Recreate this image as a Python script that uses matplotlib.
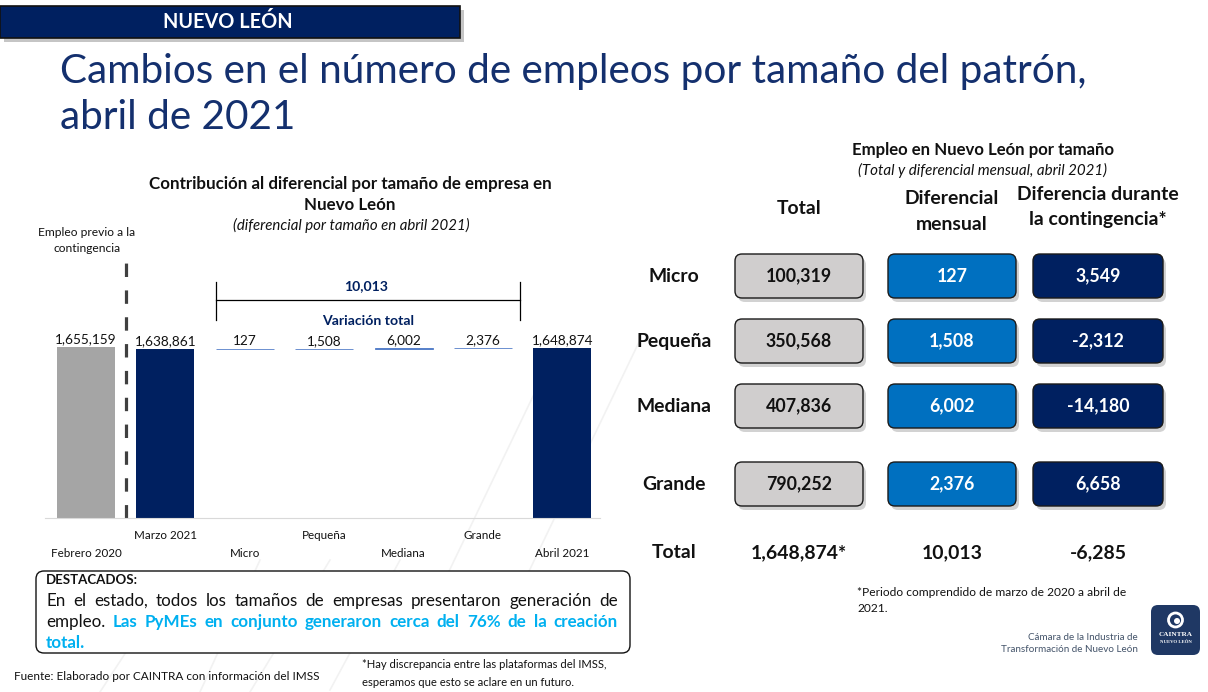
import matplotlib
matplotlib.use('Agg')
import matplotlib.pyplot as plt
from matplotlib.patches import FancyBboxPatch, Rectangle, Circle
import matplotlib.transforms as mtransforms

plt.rcParams['font.family'] = ['Lato', 'DejaVu Sans']

# ---------------- data ----------------
wf_labels = ['Febrero 2020', 'Marzo 2021', 'Micro', 'Pequeña', 'Mediana', 'Grande', 'Abril 2021']
wf_values = [1655159, 1638861, 127, 1508, 6002, 2376, 1648874]
wf_kind = ['base', 'total', 'delta', 'delta', 'delta', 'delta', 'total']
variacion_total = 10013

sizes = ['Micro', 'Pequeña', 'Mediana', 'Grande']
total_emp = [100319, 350568, 407836, 790252]
dif_mensual = [127, 1508, 6002, 2376]
dif_contingencia = [3549, -2312, -14180, 6658]
total_row = ['1,648,874*', '10,013', '-6,285']
col_headers = [['Total'], ['Diferencial', 'mensual'], ['Diferencia durante', 'la contingencia*']]

# ---------------- styling ----------------
NAVY = '#002060'
BLUE = '#0070C0'
GRAYBOX = '#D0CECE'
GRAYBAR = '#A5A5A5'
DELTA = '#4472C4'
CYAN = '#00B0F0'
TITLE = '#14306E'

W, H = 1208, 692
fig = plt.figure(figsize=(W / 100, H / 100), dpi=100)
fig.patch.set_facecolor('white')
renderer = fig.canvas.get_renderer()

ov = fig.add_axes([0, 0, 1, 1])
ov.set_xlim(0, W)
ov.set_ylim(H, 0)
ov.axis('off')
ov.patch.set_alpha(0)


def fit(s, width, **kw):
    t = ov.text(0, 0, s, fontsize=10, **kw)
    w = t.get_window_extent(renderer).width
    t.remove()
    return 10 * width / w


def T(x, y, s, size, ha='center', va='center', **kw):
    return ov.text(x, y, s, fontsize=size, ha=ha, va=va, **kw)


# faint watermark strokes
for (x0, y0, x1, y1) in [(440, 590, 560, 340), (520, 590, 640, 340), (200, 692, 260, 560),
                         (250, 692, 330, 560), (330, 690, 400, 560), (100, 692, 160, 600)]:
    ov.plot([x0, x1], [y0, y1], color='#F2F2F2', lw=1.2, zorder=0)

# ---------------- header ----------------
ov.add_patch(Rectangle((4, 10), 460, 32, facecolor='#7F7F7F', alpha=0.45, lw=0, zorder=1))
ov.add_patch(Rectangle((0, 6), 460, 32, facecolor=NAVY, edgecolor='#111111', lw=1.2, zorder=2))
T(228, 22.5, 'NUEVO LEÓN', fit('NUEVO LEÓN', 129, weight='bold'), color='white', weight='bold', zorder=3)

t1 = 'Cambios en el número de empleos por tamaño del patrón,'
tsz = fit(t1, 1030)
T(60, 83, t1, tsz, ha='left', va='baseline', color=TITLE)
T(60, 129, 'abril de 2021', tsz, ha='left', va='baseline', color=TITLE)

# ---------------- waterfall chart ----------------
x_c0, dx = 86.0, 79.4
ax_l, ax_r, ax_b, ax_t = 45, 600, 518, 300
ax = fig.add_axes([ax_l / W, 1 - ax_b / H, (ax_r - ax_l) / W, (ax_b - ax_t) / H])
ax.patch.set_alpha(0)
ax.set_xlim((ax_l - x_c0) / dx, (ax_r - x_c0) / dx)
ax.set_ylim(0, wf_values[0] * (ax_b - ax_t) / (ax_b - 347))
for sp in ['top', 'right', 'left']:
    ax.spines[sp].set_visible(False)
ax.spines['bottom'].set_color('#D9D9D9')
ax.set_xticks([])
ax.set_yticks([])

xs = list(range(len(wf_values)))
bottoms, heights, colors = [], [], []
running = 0
for v, k in zip(wf_values, wf_kind):
    if k == 'base':
        bottoms.append(0); heights.append(v); colors.append(GRAYBAR)
    elif k == 'total':
        bottoms.append(0); heights.append(v); colors.append(NAVY)
        running = v
    else:
        bottoms.append(running); heights.append(v); colors.append(DELTA)
        running += v
bw = 58 / dx
for i in xs:
    if wf_kind[i] == 'delta':
        ax.bar(xs[i], heights[i], bottom=bottoms[i], width=bw, color=colors[i],
               edgecolor=colors[i], linewidth=0.55)
    else:
        ax.bar(xs[i], heights[i], bottom=bottoms[i], width=bw, color=colors[i], linewidth=0)

vsz = fit('1,655,159', 62)
for i in xs:
    top = bottoms[i] + heights[i]
    ax.annotate(f'{wf_values[i]:,}', (xs[i], top), xytext=(0, 5.5), textcoords='offset points',
                ha='center', va='center', fontsize=vsz, color='#111111')

lsz = fit('Febrero 2020', 71)
trans_lbl = mtransforms.blended_transform_factory(ax.transData, ax.transAxes)
for i, lab in enumerate(wf_labels):
    off = -12.5 if i % 2 == 1 else -25.5
    ax.annotate(lab, (xs[i], 0), xycoords=trans_lbl, xytext=(0, off), textcoords='offset points',
                ha='center', va='center', fontsize=lsz, color='#111111')

# dashed separator between Feb 2020 and Mar 2021
ax.plot([0.5, 0.5], [0, (ax_b - 255) / (ax_b - ax_t)], transform=trans_lbl, clip_on=False,
        color='#404040', lw=2.3, linestyle=(0, (4.2, 4.2)))

# bracket for total variation
ov.plot([216, 520], [300, 300], color='black', lw=0.9)
ov.plot([216, 216], [282, 320], color='black', lw=0.9)
ov.plot([520, 520], [282, 320], color='black', lw=0.9)
bsz = fit(f'{variacion_total:,}', 44, weight='bold')
T(366, 286, f'{variacion_total:,}', bsz, color=NAVY, weight='bold')
T(368, 321, 'Variación total', bsz, color=NAVY, weight='bold')

csz = fit('Contribución al diferencial por tamaño de empresa en', 403, weight='bold')
T(350, 184, 'Contribución al diferencial por tamaño de empresa en', csz, weight='bold', color='#111111')
T(350, 205, 'Nuevo León', csz, weight='bold', color='#111111')
T(351, 225, '(diferencial por tamaño en abril 2021)', fit('(diferencial por tamaño en abril 2021)', 238, style='italic'),
  style='italic', color='#111111')
esz = fit('Empleo previo a la', 97)
T(87, 233, 'Empleo previo a la', esz, color='#111111')
T(87, 249, 'contingencia', esz, color='#111111')

# ---------------- DESTACADOS box ----------------
ov.add_patch(FancyBboxPatch((36, 571), 594, 82, boxstyle='round,pad=0,rounding_size=8',
                            facecolor='white', edgecolor='#111111', lw=1.0, zorder=2))
T(46, 580, 'DESTACADOS:', fit('DESTACADOS:', 91, weight='bold'), ha='left', weight='bold',
  color='#111111', zorder=3)
para1 = 'En el estado, todos los tamaños de empresas presentaron generación de'
psz = fit(para1, 540)
N = dict(color='#111111')
B = dict(color=CYAN, weight='bold')
line1 = [(w, N) for w in para1.split()]
line2 = [('empleo.', N)] + [(w, B) for w in 'Las PyMEs en conjunto generaron cerca del 76% de la creación'.split()]
line3 = [('total.', B)]


def justify(words, y, x0, x1, just=True):
    widths = []
    for w, st in words:
        t = ov.text(0, 0, w, fontsize=psz, **st)
        widths.append(t.get_window_extent(renderer).width)
        t.remove()
    if just and len(words) > 1:
        gap = (x1 - x0 - sum(widths)) / (len(words) - 1)
    else:
        gap = 4
    x = x0
    for (w, st), wd in zip(words, widths):
        ov.text(x, y, w, fontsize=psz, ha='left', va='center', zorder=3, **st)
        x += wd + gap


justify(line1, 601, 46, 618)
justify(line2, 622, 46, 618)
justify(line3, 643, 46, 618, just=False)

fsz = fit('Fuente: Elaborado por CAINTRA con información del IMSS', 304)
T(14, 676, 'Fuente: Elaborado por CAINTRA con información del IMSS', fsz, ha='left', color='#111111')
nsz = fit('*Hay discrepancia entre las plataformas del IMSS,', 244)
T(362, 665, '*Hay discrepancia entre las plataformas del IMSS,', nsz, ha='left', color='#111111')
T(362, 683, 'esperamos que esto se aclare en un futuro.', nsz, ha='left', color='#111111')

# ---------------- right table ----------------
rt = fit('Empleo en Nuevo León por tamaño', 264, weight='bold')
T(983, 150, 'Empleo en Nuevo León por tamaño', rt, weight='bold', color='#111111')
T(983, 170, '(Total y diferencial mensual, abril 2021)',
  fit('(Total y diferencial mensual, abril 2021)', 249, style='italic'), style='italic', color='#111111')

hsz = fit('Diferencia durante', 162, weight='bold')
col_x = [799, 952, 1098]
col_y = [[209], [199, 224], [194, 219]]
for cx, lines, ys in zip(col_x, col_headers, col_y):
    for s, y in zip(lines, ys):
        T(cx, y, s, hsz, weight='bold', color='#111111')

row_y = [276, 341, 406, 484]
box_x = [(735, 128), (888, 128), (1033, 130)]
box_fc = [GRAYBOX, BLUE, NAVY]
box_tc = ['#111111', 'white', 'white']
vsz2 = fit('100,319', 66, weight='bold')
for r, lab in enumerate(sizes):
    y = row_y[r]
    T(674, y, lab, hsz, weight='bold', color='#111111')
    vals = [total_emp[r], dif_mensual[r], dif_contingencia[r]]
    for c in range(3):
        bx, bwid = box_x[c]
        ov.add_patch(FancyBboxPatch((bx + 3, y - 22 + 4), bwid, 44, boxstyle='round,pad=0,rounding_size=7',
                                    facecolor='#808080', alpha=0.35, lw=0, zorder=1))
        ov.add_patch(FancyBboxPatch((bx, y - 22), bwid, 44, boxstyle='round,pad=0,rounding_size=7',
                                    facecolor=box_fc[c], edgecolor='#1a1a1a', lw=1.0, zorder=2))
        T(bx + bwid / 2, y, f'{vals[c]:,}', vsz2, weight='bold', color=box_tc[c], zorder=3)

T(674, 553, 'Total', hsz, weight='bold', color='#111111')
for cx, s in zip(col_x, total_row):
    T(cx, 553, s, hsz, weight='bold', color='#111111')

psz2 = fit('*Periodo comprendido de marzo de 2020 a abril de', 270)
T(857, 592, '*Periodo comprendido de marzo de 2020 a abril de', psz2, ha='left', color='#111111')
T(857, 608, '2021.', psz2, ha='left', color='#111111')

# ---------------- logo ----------------
gsz = fit('Transformación de Nuevo León', 137)
T(1138, 637, 'Cámara de la Industria de', gsz, ha='right', color='#44546A')
T(1138, 650, 'Transformación de Nuevo León', gsz, ha='right', color='#44546A')
ov.add_patch(FancyBboxPatch((1151, 605), 49, 50, boxstyle='round,pad=0,rounding_size=7',
                            facecolor='#1F3864', edgecolor='none', zorder=2))
ov.add_patch(Circle((1175.5, 620), 7, facecolor='none', edgecolor='white', lw=2.0, zorder=3))
ov.add_patch(Circle((1177, 621), 3, facecolor='white', edgecolor='none', zorder=3))
T(1175.5, 635, 'CAINTRA', 5.2, weight='bold', color='white', zorder=3, family=['Liberation Serif'])
T(1175.5, 642, 'NUEVO LEÓN', 3.4, weight='bold', color='white', zorder=3, family=['Liberation Serif'])

fig.savefig('out.png', dpi=100, facecolor='white')
